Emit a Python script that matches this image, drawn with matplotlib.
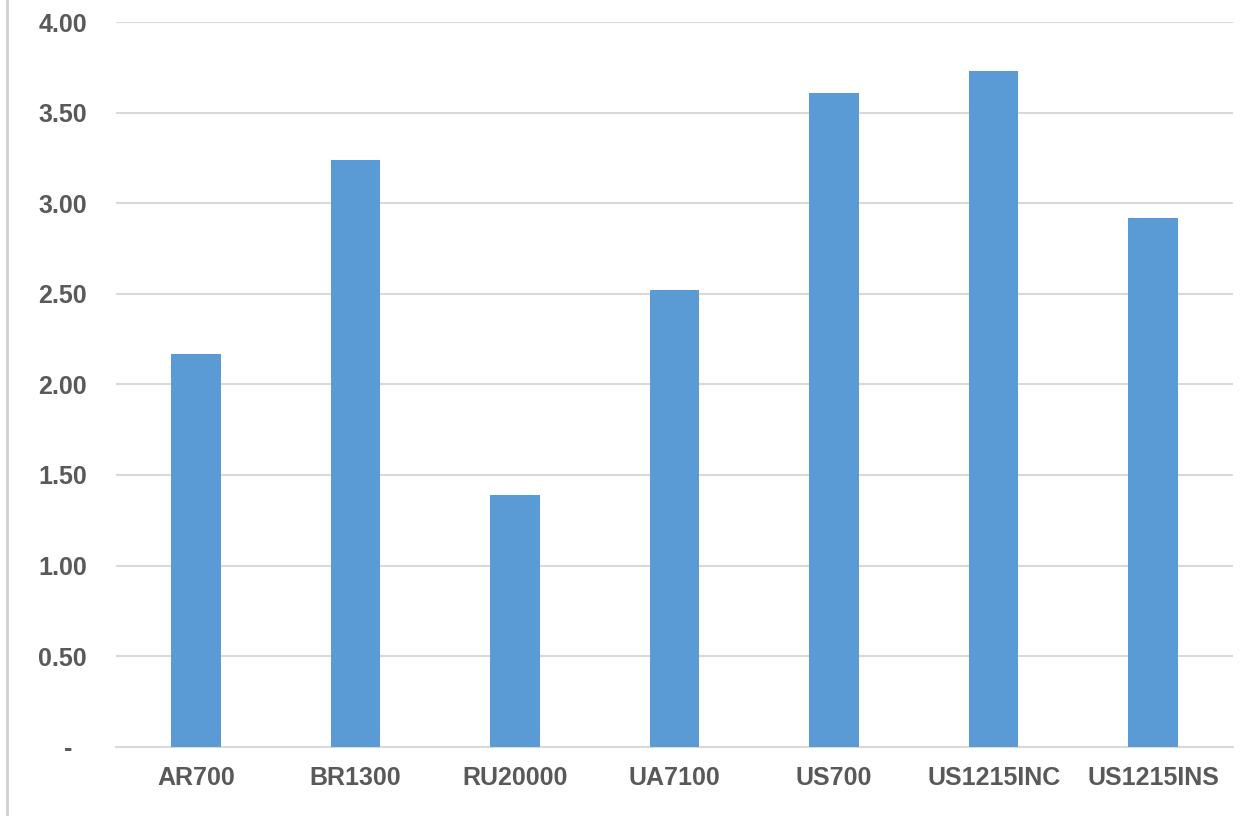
import matplotlib
matplotlib.use("Agg")
import matplotlib.pyplot as plt
from matplotlib.lines import Line2D

# series values per product
products = ["AR700", "BR1300", "RU20000", "UA7100", "US700", "US1215INC", "US1215INS"]
values = [2.17, 3.24, 1.39, 2.52, 3.61, 3.73, 2.92]
yticks = [0.0, 0.5, 1.0, 1.5, 2.0, 2.5, 3.0, 3.5, 4.0]
ytick_labels = ["-  ", "0.50", "1.00", "1.50", "2.00", "2.50", "3.00", "3.50", "4.00"]

BAR = "#5B9BD5"
GRID = "#D9D9D9"
TEXT = "#595959"

plt.rcParams.update({
    "font.family": ["Liberation Sans", "DejaVu Sans"],
    "font.weight": "bold",
})

fig = plt.figure(figsize=(12.49, 8.16), dpi=100)
ax = fig.add_axes([0.0929, 0.0849, 0.8943, 0.888])

x = range(len(products))
ax.bar(x, values, width=0.31, color=BAR, zorder=3)

ax.set_xlim(-0.5, len(products) - 0.5)
ax.set_ylim(0, 4.0)
ax.set_yticks(yticks)
ax.set_yticklabels(ytick_labels)
ax.set_xticks(list(x))
ax.set_xticklabels(products)

ax.yaxis.grid(True, color=GRID, linewidth=1.5, zorder=0)
ax.set_axisbelow(True)
for side in ("top", "right", "left"):
    ax.spines[side].set_visible(False)
ax.spines["bottom"].set_color(GRID)
ax.spines["bottom"].set_linewidth(1.5)

ax.tick_params(axis="y", length=0, pad=21, labelsize=18, labelcolor=TEXT)
ax.tick_params(axis="x", length=0, pad=14, labelsize=18, labelcolor=TEXT)
for lbl in ax.get_xticklabels() + ax.get_yticklabels():
    lbl.set_fontweight("bold")

# thin frame edge on the left of the chart area
fig.add_artist(Line2D([7 / 1249, 7 / 1249], [0.0, 1.0], transform=fig.transFigure,
                      color="#D0D0D0", linewidth=2))

fig.savefig("out.png", dpi=100)
